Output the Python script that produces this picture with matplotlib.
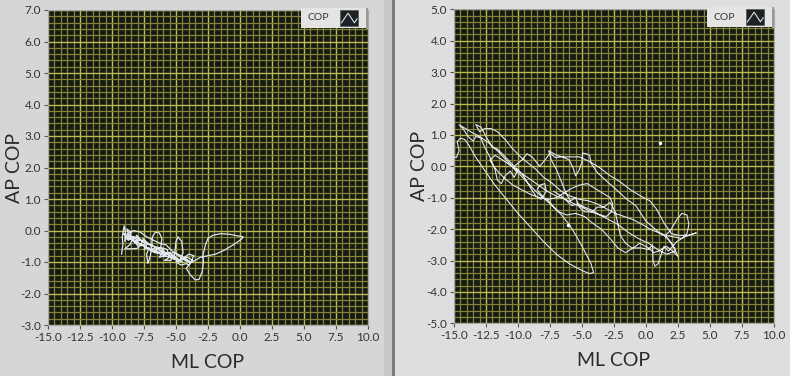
import matplotlib
matplotlib.use("Agg")
import matplotlib.pyplot as plt
from matplotlib.patches import Rectangle
from matplotlib.lines import Line2D
from matplotlib.ticker import MultipleLocator, FormatStrFormatter

# ---------------- data ----------------
x_label = "ML COP"
y_label = "AP COP"
legend_label = "COP"

left_xlim = (-15.0, 10.0)
left_ylim = (-3.0, 7.0)
right_xlim = (-15.0, 10.0)
right_ylim = (-5.0, 5.0)

left_ml = [-9.25, -9.15, -9.2, -9.05, -8.95, -9.0, -8.7, -8.85, -8.5, -8.75, -8.3, -8.6, -9.0, -8.6, -8.1,
           -7.9, -8.2, -7.8, -8.1, -7.6, -7.9, -7.4, -7.6, -7.2, -7.5, -7.1, -7.3, -7.2, -7.0, -6.9,
           -6.85, -6.6, -6.3, -6.1, -6.2, -6.5, -6.8, -6.4, -6.0, -6.3, -5.8, -6.1, -5.7, -5.5, -5.9,
           -5.4, -5.1, -5.0, -4.85, -4.55, -4.45, -4.7, -5.0, -4.6, -4.2, -4.0, -3.7, -4.1, -4.5, -4.0,
           -3.6, -3.9, -4.2, -3.9, -3.5, -3.2, -2.95, -2.85, -2.9, -2.7, -2.5, -2.1, -1.5, -0.8, -0.2,
           0.25, 0.1, -0.5, -1.2, -1.9, -2.5, -3.1, -3.5, -3.9, -4.3, -4.8, -5.3, -5.8, -6.3, -6.8,
           -7.3, -7.8, -8.3, -8.8, -8.4, -7.9, -7.3, -6.7, -6.1, -5.5, -5.0, -4.5, -5.2, -5.6, -6.4,
           -6.9, -7.6, -8.2, -8.7, -9.1, -8.8, -8.3, -7.7, -7.0, -6.5, -5.9, -5.3, -4.8, -4.3, -3.9,
           -4.4, -5.1, -5.7, -6.2, -6.9, -7.5, -8.0, -8.6, -8.2, -7.6, -7.1, -6.5, -6.0, -5.4, -4.9]
left_ap = [-0.75, -0.45, -0.2, 0.15, -0.05, -0.35, -0.1, 0.05, -0.05, -0.3, -0.2, -0.45, -0.58, -0.58, -0.57,
           -0.55, -0.35, -0.3, -0.15, -0.35, -0.5, -0.45, -0.25, -0.4, -0.6, -0.55, -0.75, -1.05, -0.8, -0.5,
           -0.2, -0.05, -0.08, -0.25, -0.55, -0.6, -0.65, -0.7, -0.65, -0.85, -0.8, -0.55, -0.6, -0.85, -0.95,
           -0.95, -0.75, -0.35, -0.2, -0.35, -0.7, -0.95, -1.0, -1.1, -1.05, -1.1, -0.95, -0.85, -0.9, -0.75,
           -0.8, -1.05, -1.2, -1.4, -1.57, -1.55, -1.3, -1.0, -0.8, -0.45, -0.25, -0.15, -0.1, -0.12, -0.17,
           -0.2, -0.28, -0.45, -0.62, -0.75, -0.8, -0.85, -0.95, -1.02, -0.95, -0.8, -0.65, -0.45, -0.4, -0.3,
           -0.2, -0.05, 0.0, -0.1, -0.25, -0.4, -0.55, -0.7, -0.75, -0.7, -0.85, -1.0, -0.9, -0.75, -0.6,
           -0.45, -0.35, -0.2, -0.3, -0.1, -0.15, -0.35, -0.45, -0.6, -0.55, -0.75, -0.8, -0.95, -0.9, -1.0,
           -0.85, -0.7, -0.75, -0.55, -0.5, -0.35, -0.3, -0.15, -0.4, -0.45, -0.6, -0.65, -0.8, -0.85, -0.95]

right_ml = [-15.0, -14.8, -14.6, -14.75, -14.5, -14.15, -13.8, -13.4, -12.9, -12.4, -11.8, -11.0, -10.0, -9.0, -8.0,
            -7.0, -6.0, -5.0, -4.4, -4.1, -4.3, -4.8, -5.4, -6.0, -6.6, -7.2, -7.9, -8.6, -9.3, -10.0,
            -10.7, -11.5, -12.3, -13.0, -13.7, -14.3, -14.6, -14.3, -13.9, -13.5, -13.3, -12.9, -12.6, -12.2, -11.8,
            -11.6, -11.3, -11.0, -10.6, -10.3, -10.1, -10.4, -10.0, -9.5, -9.0, -8.6, -8.2, -7.8, -7.9, -8.3,
            -8.5, -8.0, -7.6, -7.2, -6.8, -6.2, -5.5, -4.8, -4.2, -3.5, -2.8, -2.2, -1.6, -1.0, -0.5,
            0.2, 0.6, 1.0, 1.6, 2.1, 2.5, 2.2, 1.8, 1.5, 1.9, 2.4, 2.8, 3.2, 3.35, 3.2,
            2.8, 2.2, 1.5, 1.0, 0.0, -0.8, -1.5, -2.3, -3.0, -3.8, -4.3, -4.4, -4.7, -4.95, -5.0,
            -5.2, -5.5, -5.7, -6.0, -6.5, -7.0, -7.6, -7.4, -7.0, -6.6, -6.2, -5.9, -5.5, -5.2, -4.8,
            -4.2, -3.8, -3.3, -2.8, -2.4, -2.2, -2.0, -1.6, -1.1, -0.4, 0.2, 0.5, 0.55, 0.7, 0.95,
            1.2, 1.4, 1.75, 2.4, 3.0, 3.93, 3.3, 2.6, 2.0, 1.4, 0.8, 0.3, -0.4, -1.2, -2.0,
            -2.8, -3.6, -4.4, -5.2, -6.0, -6.6, -7.1, -7.5, -7.8, -8.3, -8.9, -9.3, -9.7, -10.3, -11.0,
            -11.6, -12.0, -12.5, -12.9, -13.3, -13.0, -12.6, -12.1, -11.6, -11.0, -10.4, -9.8, -9.2, -8.6, -8.0,
            -7.3, -6.6, -5.9, -5.2, -4.5, -3.8, -3.1, -2.4, -1.7, -1.0, -0.3, 0.3, 0.9, 1.4, 1.8,
            2.1, 2.3, 1.6, 0.9, 0.2, -0.6, -1.4, -2.2, -2.9, -3.6, -4.3, -5.0, -5.6, -6.3, -7.0,
            -7.7, -8.4, -9.1, -9.8, -10.5, -11.2, -11.8, -12.2, -11.9, -11.5, -11.0, -10.4, -9.7, -9.0, -8.3,
            -7.6, -7.0, -6.4, -5.8, -5.2, -4.6, -4.0, -3.4, -2.8, -2.6, -2.7, -3.1, -3.6, -4.2, -4.8,
            -5.3, -5.8, -6.2, -6.6, -7.2]
right_ap = [0.30, 0.28, 0.5, 0.78, 0.9, 0.85, 0.65, 0.35, 0.05, -0.25, -0.6, -1.0, -1.5, -1.95, -2.4,
            -2.8, -3.1, -3.32, -3.42, -3.38, -3.1, -2.7, -2.25, -1.85, -1.55, -1.3, -1.05, -0.8, -0.5, -0.2,
            0.1, 0.45, 0.75, 0.95, 1.1, 1.25, 1.32, 1.2, 0.95, 0.8, 0.95, 0.9, 0.6, 0.3, -0.1,
            -0.45, -0.55, -0.3, -0.15, -0.35, -0.2, 0.0, -0.1, -0.35, -0.7, -0.95, -1.05, -0.8, -0.55, -0.6,
            -0.75, -1.0, -1.1, -1.3, -1.45, -1.55, -1.5, -1.6, -1.8, -2.0, -2.3, -2.6, -2.75, -2.6, -2.45,
            -2.6, -2.75, -2.7, -2.55, -2.7, -2.87, -2.6, -2.35, -2.2, -2.05, -1.7, -1.5, -1.55, -1.85, -2.15,
            -2.3, -2.25, -2.2, -2.1, -1.75, -1.25, -1.05, -0.75, -0.5, -0.2, 0.1, 0.35, 0.4, 0.42, 0.15,
            -0.1, -0.3, -0.05, 0.2, 0.3, 0.35, 0.5, 0.2, -0.1, -0.5, -0.9, -1.1, -1.0, -1.3, -1.45,
            -1.45, -1.3, -1.3, -1.15, -1.45, -1.85, -2.2, -2.45, -2.6, -2.6, -2.65, -2.5, -3.0, -3.18, -3.1,
            -2.8, -2.55, -2.7, -2.4, -2.25, -2.12, -2.2, -2.2, -2.15, -1.8, -1.35, -1.1, -0.95, -0.75, -0.5,
            -0.3, -0.05, 0.15, 0.3, 0.3, 0.3, 0.28, 0.42, 0.25, 0.0, 0.3, 0.4, 0.2, 0.0, 0.3,
            0.55, 0.6, 0.95, 1.25, 1.33, 1.1, 1.2, 1.2, 1.1, 0.85, 0.55, 0.3, 0.1, -0.1, -0.35,
            -0.55, -0.8, -0.95, -1.05, -1.1, -1.2, -1.35, -1.5, -1.6, -1.7, -1.85, -2.0, -2.1, -2.2, -2.35,
            -2.5, -2.7, -2.8, -2.65, -2.45, -2.3, -2.1, -1.85, -1.7, -1.55, -1.45, -1.3, -1.2, -1.05, -0.95,
            -0.8, -0.6, -0.4, -0.2, 0.0, 0.2, 0.35, 0.2, 0.0, -0.2, -0.4, -0.6, -0.75, -0.9, -1.0,
            -1.05, -1.0, -0.85, -0.7, -0.6, -0.55, -0.7, -0.85, -1.0, -1.2, -1.45, -1.6, -1.55, -1.4, -1.3,
            -1.2, -1.25, -1.1, -0.95, -0.8]

right_spot_ml = [1.07, -6.1]
right_spot_ap = [0.74, -1.86]

# ---------------- style ----------------
W, H = 790, 376
fig = plt.figure(figsize=(W / 100, H / 100), dpi=100)
fig.patch.set_facecolor("#dcdcdb")

FONT = ["Lato", "DejaVu Sans"]
plt.rcParams["font.family"] = FONT

def fx(px):
    return px / W

def fy(py):
    return 1 - py / H

# panel backgrounds and separator
fig.add_artist(Rectangle((0, 0), fx(384), 1, transform=fig.transFigure,
                         facecolor="#d6d6d4", edgecolor="none", zorder=-10))
fig.add_artist(Rectangle((fx(384), 0), fx(8), 1, transform=fig.transFigure,
                         facecolor="#c8c8c6", edgecolor="none", zorder=-10))
fig.add_artist(Rectangle((fx(392), 0), fx(2.5), 1, transform=fig.transFigure,
                         facecolor="#7c7c7c", edgecolor="none", zorder=-10))
fig.add_artist(Rectangle((fx(394.5), 0), 1 - fx(394.5), 1, transform=fig.transFigure,
                         facecolor="#dedede", edgecolor="none", zorder=-10))

PLOT_BG = "#151a13"
MAJOR = "#bdbb52"
MINOR = "#858339"
TRACE = "#dfe6ee"


def make_panel(rect_px, xlim, ylim, xs, ys, spots=None, legend_px=None, ylabel_x=None,
               xlabel_y=None, lw=0.8):
    x0, y0, x1, y1 = rect_px
    ax = fig.add_axes([fx(x0), fy(y1), fx(x1 - x0), (y1 - y0) / H])
    ax.set_facecolor(PLOT_BG)
    ax.set_xlim(*xlim)
    ax.set_ylim(*ylim)
    ax.xaxis.set_major_locator(MultipleLocator(2.5))
    ax.xaxis.set_minor_locator(MultipleLocator(0.5))
    ax.yaxis.set_major_locator(MultipleLocator(1.0))
    ax.yaxis.set_minor_locator(MultipleLocator(0.2))
    ax.xaxis.set_major_formatter(FormatStrFormatter("%.1f"))
    ax.yaxis.set_major_formatter(FormatStrFormatter("%.1f"))
    ax.grid(which="minor", color=MINOR, linewidth=0.9)
    ax.grid(which="major", color=MAJOR, linewidth=1.0)
    ax.set_axisbelow(True)
    ax.tick_params(which="major", direction="out", length=3, width=0.8, color="#555555",
                   labelsize=8.5, labelcolor="#333333", pad=2)
    ax.tick_params(which="minor", length=0)
    for s in ax.spines.values():
        s.set_color("#a8a8a8")
        s.set_linewidth(0.8)
    ax.plot(xs, ys, color=TRACE, linewidth=lw, zorder=3)
    if spots is not None:
        ax.plot(spots[0], spots[1], linestyle="none", marker="o", markersize=2.5,
                color="#ffffff", markeredgewidth=0, zorder=4)
    # axis labels
    cx = (x0 + x1) / 2
    cy = (y0 + y1) / 2
    fig.text(fx(cx), fy(xlabel_y), x_label, ha="center", va="center", fontsize=14,
             color="#2a2a2a", family=FONT)
    fig.text(fx(ylabel_x), fy(cy), y_label, ha="center", va="center", fontsize=14,
             color="#2a2a2a", rotation=90, family=FONT)
    # legend
    lx0, ly0, lx1, ly1 = legend_px
    fig.add_artist(Rectangle((fx(lx1), fy(ly1 + 1)), fx(2), (ly1 - ly0 + 1) / H,
                             transform=fig.transFigure, facecolor="#9a9a9a",
                             edgecolor="none", zorder=5))
    fig.add_artist(Rectangle((fx(lx0), fy(ly1)), fx(lx1 - lx0), (ly1 - ly0) / H,
                             transform=fig.transFigure, facecolor="#e4e4e3",
                             edgecolor="none", zorder=5))
    ix0, iy0, ix1, iy1 = lx1 - 26, ly0 + 2, lx1 - 8, ly1 - 2
    fig.add_artist(Rectangle((fx(ix0), fy(iy1)), fx(ix1 - ix0), (iy1 - iy0) / H,
                             transform=fig.transFigure, facecolor="#1c2224",
                             edgecolor="#555555", linewidth=0.5, zorder=6))
    icon_u = [0.08, 0.45, 0.8, 0.95]
    icon_v = [0.2, 0.8, 0.2, 0.45]
    fig.add_artist(Line2D([fx(ix0 + u * (ix1 - ix0)) for u in icon_u],
                          [fy(iy1 - v * (iy1 - iy0)) for v in icon_v],
                          transform=fig.transFigure, color="#d8e0e8", linewidth=0.8, zorder=7))
    fig.text(fx(lx0 + 17), fy((ly0 + ly1) / 2), legend_label, ha="center", va="center",
             fontsize=7.5, color="#333333", zorder=7, family=FONT)
    return ax


make_panel((48, 10, 368, 325), left_xlim, left_ylim, left_ml, left_ap,
           legend_px=(301, 8, 366, 28), ylabel_x=15, xlabel_y=363, lw=0.9)
make_panel((454, 9.3, 774, 323.3), right_xlim, right_ylim, right_ml, right_ap,
           spots=(right_spot_ml, right_spot_ap),
           legend_px=(707, 7, 772, 27), ylabel_x=420, xlabel_y=360, lw=0.8)

fig.savefig("out.png", dpi=100, facecolor=fig.get_facecolor())
